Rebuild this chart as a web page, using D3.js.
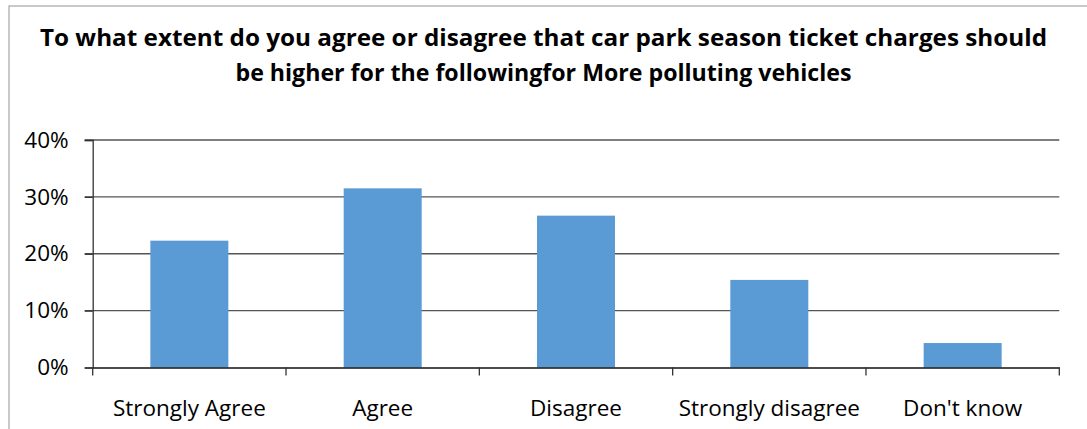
<!DOCTYPE html>
<html><head><meta charset="utf-8">
<script src="https://cdn.jsdelivr.net/npm/d3@7"></script>
<style>html,body{margin:0;padding:0;background:#fff;}svg{display:block;}</style>
</head><body>
<svg id="chart" width="1087" height="429"></svg>
<script>
const categories = ["Strongly Agree", "Agree", "Disagree", "Strongly disagree", "Don't know"];
const values = [0.223, 0.315, 0.267, 0.154, 0.043];
const yTicks = [0, 0.1, 0.2, 0.3, 0.4];
const titleLines = ["To what extent do you agree or disagree that car park season ticket charges should", "be higher for the followingfor More polluting vehicles"];

const svg = d3.select("#chart");
const plotLeft = 92.7, plotRight = 1059.3, plotTop = 140, plotBottom = 367.5;

// chart frame
svg.append("rect").attr("x", 9).attr("y", 6).attr("width", 1200).attr("height", 600)
  .attr("fill", "#fff").attr("stroke", "#a6a6a6").attr("stroke-width", 1.2);

// title
const titleWidths = [1007, 616];
svg.selectAll("text.title").data(titleLines).join("text").attr("class", "title")
  .attr("x", 543.5).attr("y", (d, i) => 45.5 + i * 35)
  .attr("text-anchor", "middle")
  .attr("font-family", "'Open Sans', sans-serif").attr("font-weight", "bold").attr("font-size", 23.5)
  .attr("fill", "#000")
  .attr("textLength", (d, i) => titleWidths[i]).attr("lengthAdjust", "spacingAndGlyphs")
  .text(d => d);

const x = d3.scaleBand().domain(categories).range([plotLeft, plotRight]).padding(0);
const y = d3.scaleLinear().domain([0, 0.4]).range([plotBottom, plotTop]);

// gridlines
svg.append("g").selectAll("line").data(yTicks.filter(t => t > 0)).join("line")
  .attr("x1", plotLeft - 8).attr("x2", plotRight).attr("y1", d => y(d)).attr("y2", d => y(d))
  .attr("stroke", "#555").attr("stroke-width", 1.3);

// bars
const bw = 78;
svg.append("g").selectAll("rect").data(values).join("rect")
  .attr("x", (d, i) => x(categories[i]) + x.bandwidth() / 2 - bw / 2)
  .attr("width", bw)
  .attr("y", d => y(d)).attr("height", d => y(0) - y(d))
  .attr("fill", "#5B9BD5");

// y axis
const yAxis = d3.axisLeft(y).tickValues(yTicks).tickFormat(d3.format(".0%")).tickSize(8).tickPadding(16);
const gy = svg.append("g").attr("transform", `translate(${plotLeft},0)`).call(yAxis);
gy.select(".domain").attr("stroke", "#333").attr("stroke-width", 1.3);
gy.selectAll(".tick line").attr("stroke", "#333").attr("stroke-width", 1.3);
gy.selectAll(".tick text").attr("font-family", "'Open Sans', sans-serif").attr("font-size", 22.5).attr("fill", "#000");

// x axis
const xAxis = d3.axisBottom(x).tickSize(0).tickPadding(33);
const gx = svg.append("g").attr("transform", `translate(0,${plotBottom})`).call(xAxis);
gx.select(".domain").attr("stroke", "#111").attr("stroke-width", 1.6);
gx.selectAll(".tick text").attr("font-family", "'Open Sans', sans-serif").attr("font-size", 22.5).attr("fill", "#000");
// boundary ticks
const bounds = categories.map(c => x(c)).concat([plotRight]);
svg.append("g").selectAll("line").data(bounds).join("line")
  .attr("x1", d => d).attr("x2", d => d).attr("y1", plotBottom).attr("y2", plotBottom + 8)
  .attr("stroke", "#333").attr("stroke-width", 1.3);
</script>
</body></html>
